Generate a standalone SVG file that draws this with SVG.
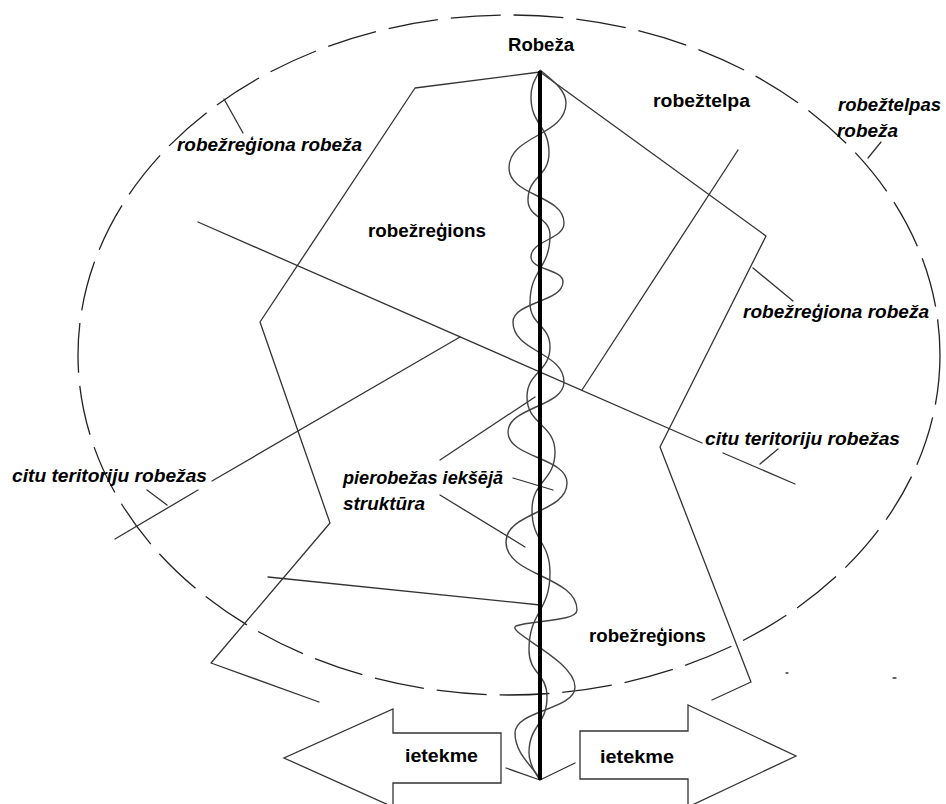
<svg xmlns="http://www.w3.org/2000/svg" width="946" height="804" viewBox="0 0 946 804">
<style>
.ln{fill:none;stroke:#333;stroke-width:1.3;stroke-linecap:round;stroke-linejoin:round}
.wv{fill:none;stroke:#444;stroke-width:1.4}
.el{fill:none;stroke:#222;stroke-width:1.3;stroke-dasharray:50 13}
.ar{fill:#fff;stroke:#333;stroke-width:1.3}
.t{font-family:"Liberation Sans",Arial,sans-serif;font-size:18px;font-weight:bold;fill:#000}
.i{font-style:italic}
</style>
<rect width="946" height="804" fill="#fff"/>
<g id="robeztelpas-robeza">
<ellipse class="el" cx="509" cy="355" rx="431" ry="340"/>
</g>
<g id="connectors">
<path class="ln" d="M540,72 L415,88 L260,322 L330,523 L211,663 L319,702"/>
<path class="ln" d="M540,72 L766,236 L660,447 L751,682 L712,700"/>
<path class="ln" d="M198,222 L702,443 M723,453 L795,484"/>
<path class="ln" d="M115,539 L198,490 M212,481 L460,337"/>
<path class="ln" d="M582,390 L738,150"/>
<path class="ln" d="M440,460 L535,397"/>
<path class="ln" d="M268,577 L540,605"/>
<path class="ln" d="M224,99 L243,133 M753,268 L793,301 M868,158 L881,142 M147,490 L167,505 M760,464 L778,449 M513,478 L553,490 M440,495 L525,547"/>
<path class="ln" d="M506,768 L540,780 L575,763"/>
<path class="ln" d="M786,673 L788,673 M893,678 L896,678"/>
</g>
<g id="pierobezas-struktura">
<path class="wv" d="M540,70 C552,80 566,90 566,103 C566,136 509,135 509,168 C509,196 564,195 564,223 C564,240 531,240 531,257 C531,270 563,269 563,282 C563,302 513,302 513,322 C513,352 564,352 564,382 C564,407 508,407 508,432 C508,458 567,457 567,483 C567,513 506,512 506,542 C506,576 577,576 577,610 C577,622 530,620 516,626 C505,632 575,660 575,687 C575,710 515,710 515,733 C515,755 535,768 540,780"/>
<path class="wv" d="M540,70 C535,80 531,85 531,97 C531,125 549,125 549,153 C549,177 528,176 528,200 C528,218 550,217 550,235 C550,269 530,269 530,303 C530,325 550,325 550,347 C550,372 527,372 527,397 C527,425 555,424 555,452 C555,481 532,481 532,510 C532,542 550,541 550,573 C550,612 529,611 529,650 C529,674 547,673 547,697 C547,725 529,725 529,753 C529,766 537,775 540,780"/>
</g>
<g id="robeza">
<line x1="540" y1="71" x2="540" y2="780" stroke="#000" stroke-width="4"/>
<text class="t" x="508" y="51" textLength="66" lengthAdjust="spacingAndGlyphs">Robeža</text>
</g>
<g id="ietekme-left">
<polygon class="ar" points="501,733 393,733 393,709 284,758 393,807 393,783 501,783"/>
<text class="t" x="405" y="762" textLength="73" lengthAdjust="spacingAndGlyphs">ietekme</text>
</g>
<g id="ietekme-right">
<polygon class="ar" points="580,731 688,731 688,705 796,756 688,807 688,779 580,779"/>
<text class="t" x="600" y="763" textLength="74" lengthAdjust="spacingAndGlyphs">ietekme</text>
</g>
<g id="labels">
<text class="t" x="653" y="107" textLength="97" lengthAdjust="spacingAndGlyphs">robežtelpa</text>
<text class="t i" x="838" y="111" textLength="103" lengthAdjust="spacingAndGlyphs">robežtelpas</text>
<text class="t i" x="837" y="137" textLength="61" lengthAdjust="spacingAndGlyphs">robeža</text>
<text class="t i" x="177" y="151" textLength="185" lengthAdjust="spacingAndGlyphs">robežreģiona robeža</text>
<text class="t" x="368" y="237" textLength="118" lengthAdjust="spacingAndGlyphs">robežreģions</text>
<text class="t i" x="743" y="318" textLength="186" lengthAdjust="spacingAndGlyphs">robežreģiona robeža</text>
<text class="t i" x="705" y="445" textLength="195" lengthAdjust="spacingAndGlyphs">citu teritoriju robežas</text>
<text class="t i" x="12" y="482" textLength="195" lengthAdjust="spacingAndGlyphs">citu teritoriju robežas</text>
<text class="t i" x="343" y="484" textLength="160" lengthAdjust="spacingAndGlyphs">pierobežas iekšējā</text>
<text class="t i" x="343" y="510" textLength="82" lengthAdjust="spacingAndGlyphs">struktūra</text>
<text class="t" x="589" y="642" textLength="117" lengthAdjust="spacingAndGlyphs">robežreģions</text>
</g>
</svg>
